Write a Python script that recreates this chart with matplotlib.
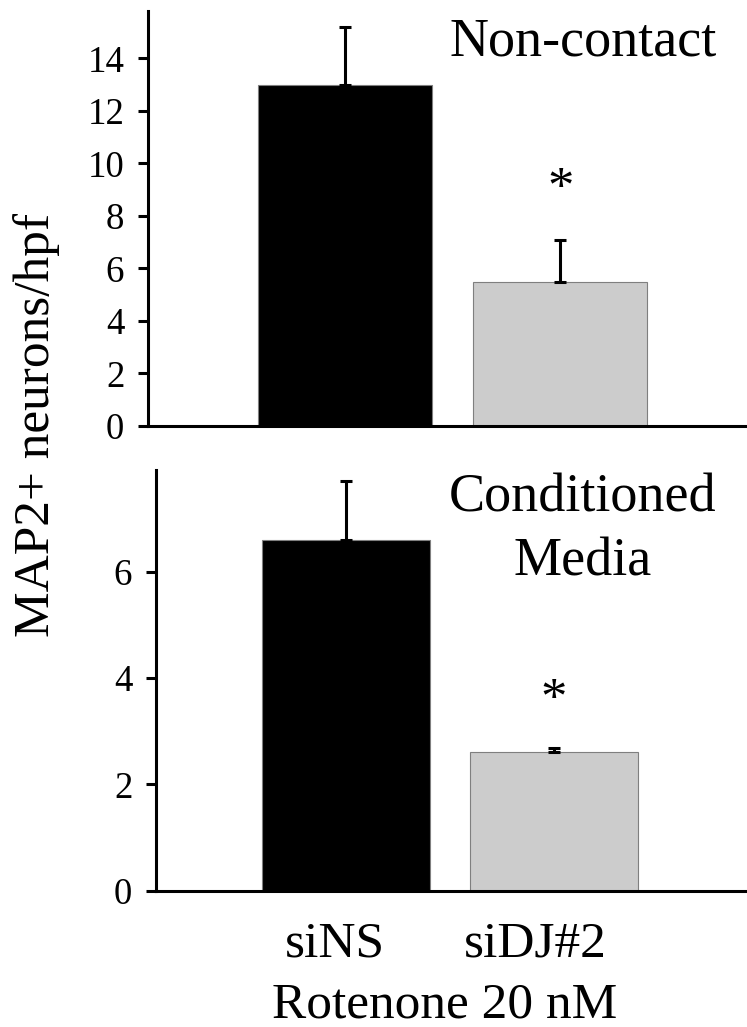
import matplotlib
matplotlib.use('Agg')
import matplotlib.pyplot as plt

plt.rcParams['font.family'] = ['Liberation Serif', 'DejaVu Serif']

# 数据
groups = ['siNS', 'siDJ#2']
colors = ['#000000', '#cccccc']
top_means = [13.0, 5.5]      # Non-contact
top_err = [2.2, 1.6]
bot_means = [6.6, 2.6]       # Conditioned Media
bot_err = [1.1, 0.08]
top_ticks = [0, 2, 4, 6, 8, 10, 12, 14]
bot_ticks = [0, 2, 4, 6]
star_top = 8.5
star_bot = 3.32

fig = plt.figure(figsize=(7.47, 10.27), dpi=100)
ax1 = fig.add_axes([0.198, 0.5852, 0.802, 0.404])
ax2 = fig.add_axes([0.2088, 0.1327, 0.7885, 0.4097])

def draw(ax, means, err, ticks, ylim, xlim, star_y):
    x = list(range(len(means)))
    ax.bar(x, means, width=0.807, color=colors, edgecolor='#7f7f7f', linewidth=0.8, zorder=2)
    ax.errorbar(x, means, yerr=[[0] * len(err), err], fmt='none', ecolor='black',
                elinewidth=2.2, capsize=4.3, capthick=2.2, zorder=3)
    ax.text(1, star_y, '*', ha='center', va='baseline', fontsize=38)
    ax.set_xlim(*xlim)
    ax.set_ylim(*ylim)
    ax.set_yticks(ticks)
    ax.set_xticks([])
    for s in ['top', 'right']:
        ax.spines[s].set_visible(False)
    for s in ['left', 'bottom']:
        ax.spines[s].set_linewidth(2.2)
    ax.tick_params(axis='y', length=7, width=2.2, labelsize=26.5, pad=10)

draw(ax1, top_means, top_err, top_ticks, (0, 15.8), (-0.913, 1.866), star_top)
draw(ax2, bot_means, bot_err, bot_ticks, (0, 7.91), (-0.913, 1.918), star_bot)

# 文字
fig.text(0.7805, 0.9458, 'Non-contact', ha='center', va='baseline', fontsize=39)
fig.text(0.7798, 0.5018, 'Conditioned', ha='center', va='baseline', fontsize=39)
fig.text(0.7800, 0.4401, 'Media', ha='center', va='baseline', fontsize=39)
fig.text(0.4485, 0.0682, groups[0], ha='center', va='baseline', fontsize=37)
fig.text(0.7169, 0.0682, groups[1], ha='center', va='baseline', fontsize=37)
fig.text(0.5953, 0.0090, 'Rotenone 20 nM', ha='center', va='baseline', fontsize=37)
fig.text(37 / 747, 0.5862, 'MAP2+ neurons/hpf', rotation=90, ha='center', va='center', fontsize=37)

plt.savefig('out.png', dpi=100)
